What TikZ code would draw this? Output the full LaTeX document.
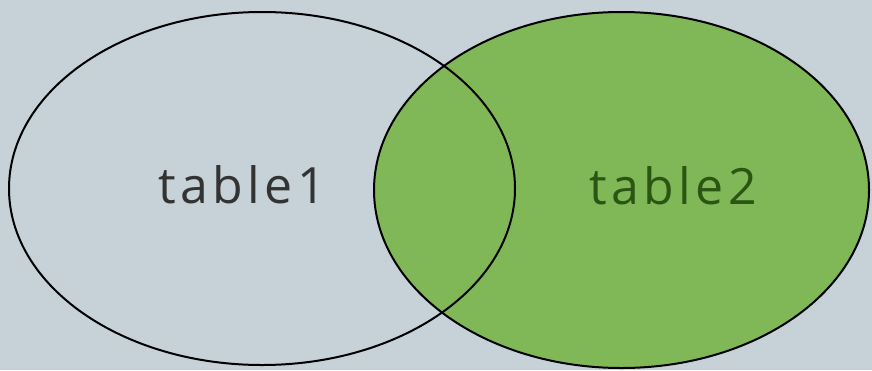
\documentclass[tikz,border=0pt]{standalone}
\usepackage{fontspec}
\setmainfont{Open Sans}
\definecolor{bg}{HTML}{C7D2D8}
\definecolor{vgreen}{HTML}{80B858}
\definecolor{tgreen}{HTML}{2B5512}
\definecolor{tgray}{HTML}{333333}
\begin{document}
\begin{tikzpicture}[x=1pt,y=-1pt,
  setline/.style={draw=black,line width=2pt},
  lbl/.style={font=\fontsize{50}{60}\selectfont\addfontfeature{LetterSpace=9},inner sep=0pt,anchor=base}]
\fill[bg] (0,0) rectangle (872,370);
\useasboundingbox (0,0) rectangle (872,370);
\coordinate (c1) at (262,188.5);
\coordinate (c2) at (621.5,190);
\fill[vgreen] (c2) ellipse [x radius=247.5, y radius=178];
\draw[setline] (c1) ellipse [x radius=253, y radius=176.5];
\draw[setline] (c2) ellipse [x radius=247.5, y radius=178];
\node[lbl,text=tgray] (t1) at (242,203) {table1};
\node[lbl,text=tgreen] (t2) at (673,204) {table2};
\end{tikzpicture}
\end{document}
